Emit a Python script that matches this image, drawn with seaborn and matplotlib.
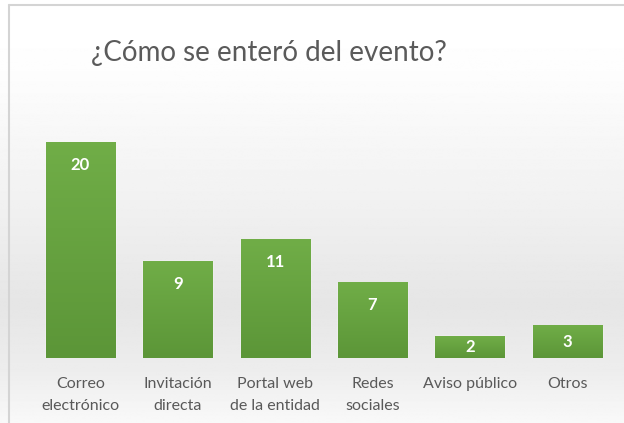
import numpy as np
import pandas as pd
import matplotlib
matplotlib.use("Agg")
import matplotlib.pyplot as plt
import seaborn as sns

# data
categorias = ["Correo\nelectrónico", "Invitación\ndirecta", "Portal web\nde la entidad",
              "Redes\nsociales", "Aviso público", "Otros"]
respuestas = [20, 9, 11, 7, 2, 3]
titulo = "¿Cómo se enteró del evento?"

df = pd.DataFrame({"categoria": categorias, "respuestas": respuestas})

sns.set_style("white")
plt.rcParams["font.family"] = ["Lato", "DejaVu Sans"]

fig = plt.figure(figsize=(6.24, 4.23), dpi=100)

# background gradient (white -> light grey -> white)
bg = fig.add_axes([0, 0, 1, 1], zorder=-10)
stops_y = [0.0, 0.15, 0.45, 0.72, 0.88, 1.0]
stops_c = [1.0, 0.995, 0.95, 0.90, 0.93, 0.975]
yy = np.linspace(0, 1, 400)
grad = np.interp(yy, stops_y, stops_c)
bg.imshow(np.repeat(grad[:, None], 2, axis=1), cmap="gray", vmin=0, vmax=1,
          aspect="auto", extent=[0, 1, 1, 0])
bg.set_xlim(0, 1)
bg.set_ylim(1, 0)
bg.axis("off")
# chart frame
bg.plot([8.5 / 624, 8.5 / 624], [1.0, 5.5 / 423], color="#d4d4d4", lw=1.5)
bg.plot([8.5 / 624, 1.0], [5.5 / 423, 5.5 / 423], color="#d4d4d4", lw=1.5)

ax = fig.add_axes([0.051, 0.1537, 0.936, 0.636])
ax.patch.set_alpha(0)
sns.barplot(data=df, x="categoria", y="respuestas", color="#68a63f",
            width=0.71, saturation=1, ax=ax)

# slight vertical gradient on bars
for bar in ax.patches:
    x0, y0 = bar.get_x(), bar.get_y()
    w, h = bar.get_width(), bar.get_height()
    g = np.linspace(0, 1, 50)[:, None]
    top = np.array([0x70, 0xad, 0x47]) / 255
    bot = np.array([0x5c, 0x96, 0x38]) / 255
    img = top + (bot - top) * g[..., None]
    img = np.repeat(img, 2, axis=1)
    ax.imshow(img, extent=[x0, x0 + w, y0, y0 + h], aspect="auto", zorder=3,
              origin="upper")
ax.set_xlim(-0.5, 5.5)
ax.set_ylim(0, 25)

for i, v in enumerate(respuestas):
    ax.text(i, max(v - 2.1, v * 0.5), str(v), ha="center", va="center",
            color="white", fontsize=12, fontweight="bold", zorder=5)

ax.set_xlabel("")
ax.set_ylabel("")
ax.set_yticks([])
ax.tick_params(axis="x", length=0, pad=14, labelsize=11.5, labelcolor="#595959")
for lbl in ax.get_xticklabels():
    lbl.set_linespacing(1.7)
sns.despine(ax=ax, left=True, bottom=True)

fig.text(0.431, 0.875, titulo, ha="center", va="center", fontsize=20,
         color="#5a5a5a")

fig.savefig("out.png", dpi=100)
